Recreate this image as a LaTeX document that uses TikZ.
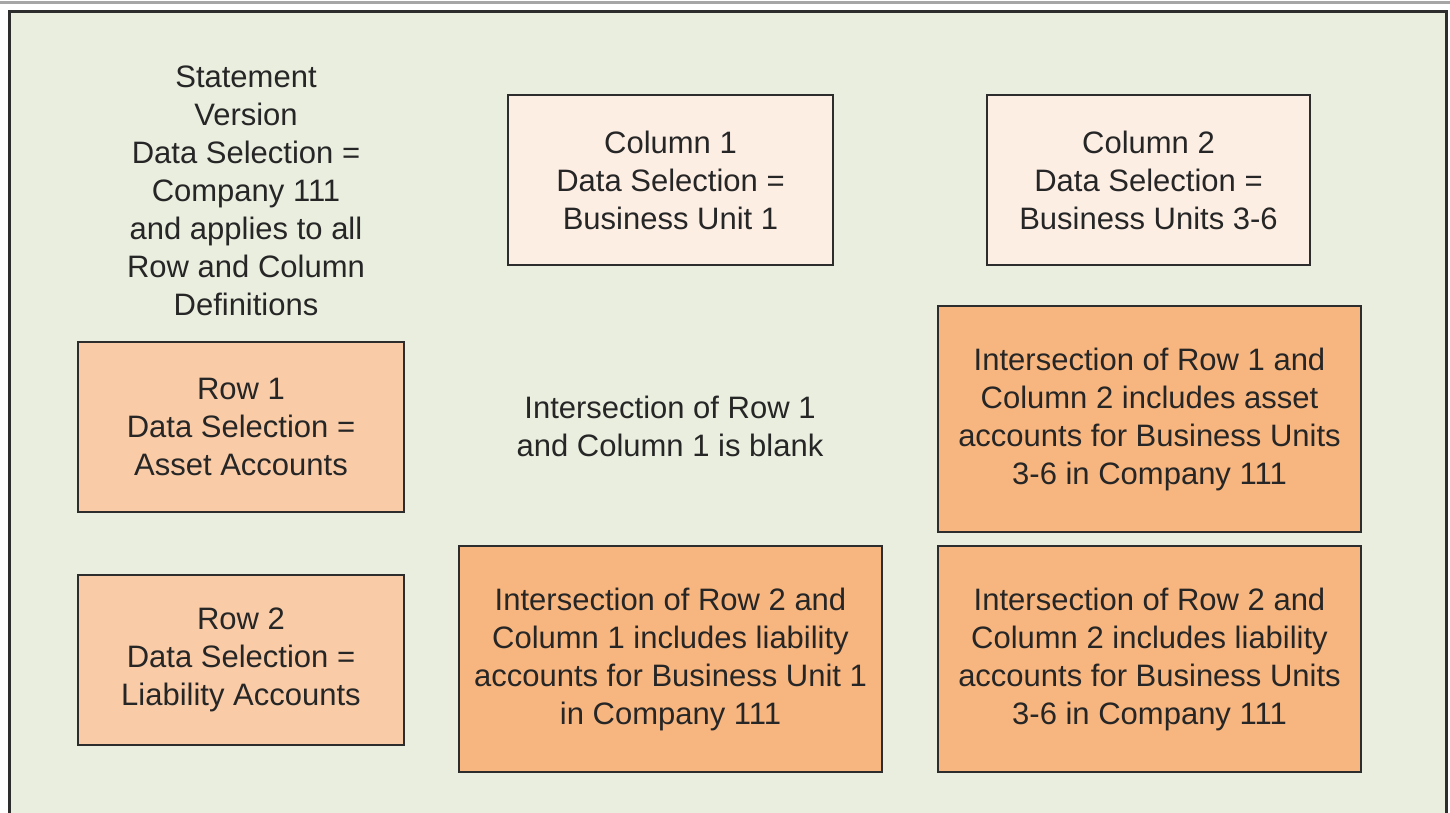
\documentclass[tikz,border=0pt]{standalone}
\usepackage{fontspec}
\setmainfont{Liberation Sans}
\definecolor{panelbg}{RGB}{234,238,223}
\definecolor{colfill}{RGB}{253,238,228}
\definecolor{rowfill}{RGB}{249,203,167}
\definecolor{cellfill}{RGB}{247,181,127}
\definecolor{edge}{RGB}{45,45,45}
\begin{document}
\begin{tikzpicture}[x=1pt,y=-1pt,
  txt/.style={align=center,font=\fontsize{31}{38}\selectfont,text=black!85,inner sep=0pt},
  box/.style={txt,draw=edge,line width=2.2pt,minimum width=#1},
  colbox/.style={box=325pt,fill=colfill,minimum height=170pt},
  rowbox/.style={box=326pt,fill=rowfill,minimum height=170pt},
  cellbox/.style={box=423pt,fill=cellfill,minimum height=226pt}]
\useasboundingbox (0,0) rectangle (1450,812);
\begin{scope}
\clip (0,0) rectangle (1450,812);
% page rule and panel frame
\fill[white] (0,0) rectangle (1450,812);
\draw[line width=3pt,black!35] (0,2.5) -- (1450,2.5);
\draw[line width=3pt,edge,fill=panelbg] (9,11.5) rectangle (1446,840);
\end{scope}
% statement version note
\node[txt] (stmt) at (246,191) {Statement\\Version\\Data Selection =\\Company 111\\and applies to all\\Row and Column\\Definitions};
% column definitions
\node[colbox] (col1) at (670.5,180) {Column 1\\Data Selection =\\Business Unit 1};
\node[colbox,minimum width=323pt] (col2) at (1148.5,180) {Column 2\\Data Selection =\\Business Units 3-6};
% row definitions
\node[rowbox] (row1) at (241,427) {Row 1\\Data Selection =\\Asset Accounts};
\node[rowbox] (row2) at (241,660) {Row 2\\Data Selection =\\Liability Accounts};
% intersections
\node[txt] (r1c1) at (670,426) {Intersection of Row 1\\and Column 1 is blank};
\node[cellbox] (r1c2) at (1149.5,419) {Intersection of Row 1 and\\Column 2 includes asset\\accounts for Business Units\\3-6 in Company 111};
\node[cellbox] (r2c1) at (670.5,659) {Intersection of Row 2 and\\Column 1 includes liability\\accounts for Business Unit 1\\in Company 111};
\node[cellbox] (r2c2) at (1149.5,659) {Intersection of Row 2 and\\Column 2 includes liability\\accounts for Business Units\\3-6 in Company 111};
\end{tikzpicture}
\end{document}
